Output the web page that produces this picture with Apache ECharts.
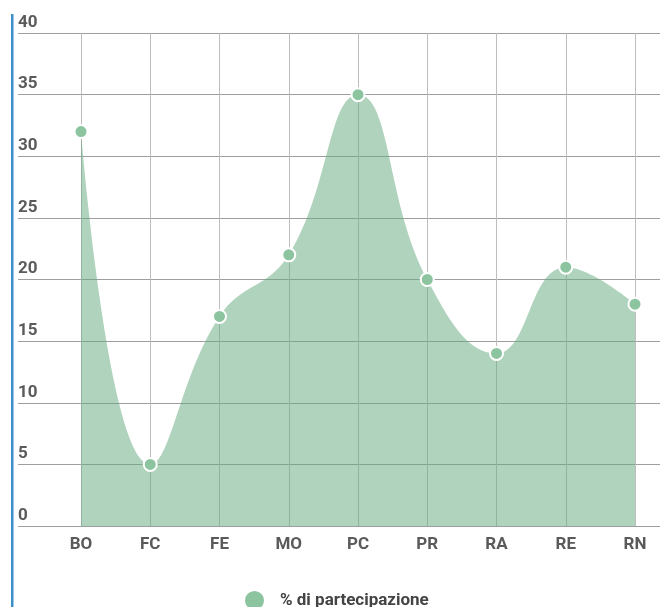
<!DOCTYPE html>
<html>
<head>
<meta charset="utf-8">
<script src="https://cdn.jsdelivr.net/npm/echarts@6/dist/echarts.min.js"></script>
<style>
  html, body { margin: 0; padding: 0; background: #fff; }
  #chart { width: 660px; height: 607px; }
</style>
</head>
<body>
<div id="chart"></div>
<script>
// Province codes and participation share (%)
const categories = ['BO', 'FC', 'FE', 'MO', 'PC', 'PR', 'RA', 'RE', 'RN'];
const partecipazione = [32, 5, 17, 22, 35, 20, 14, 21, 18];
const seriesName = '% di partecipazione';
const yMin = 0, yMax = 40, yStep = 5;

const labelFont = { fontFamily: 'Roboto', fontSize: 17, fontWeight: 'bold', color: '#5a5a5a' };

const chart = echarts.init(document.getElementById('chart'), null, { renderer: 'canvas' });
chart.setOption({
  animation: false,
  backgroundColor: '#fff',
  graphic: [{
    type: 'rect',
    shape: { x: 11, y: 14, width: 2.5, height: 600 },
    style: { fill: '#3d8fcc' }
  }],
  legend: {
    data: [seriesName],
    left: 243, top: 589, padding: 0,
    icon: 'circle', itemWidth: 21, itemHeight: 21, itemGap: 10,
    textStyle: Object.assign({}, labelFont, { color: '#444', padding: [0, 0, 0, 10] })
  },
  grid: [
    // full-width grid carrying the value axis and horizontal rules
    { left: 18, right: 0, top: 33, bottom: 81 },
    // plotting grid, category points sit on its edges
    { left: 81, right: 25, top: 33, bottom: 81 }
  ],
  xAxis: [
    { gridIndex: 0, type: 'value', show: false, min: 0, max: 1 },
    {
      gridIndex: 1, type: 'category', data: categories, boundaryGap: false,
      axisLine: { show: false }, axisTick: { show: false },
      axisLabel: Object.assign({ margin: 10 }, labelFont),
      splitLine: { show: true, lineStyle: { color: '#bdbdbd', width: 1 } }
    }
  ],
  yAxis: [
    {
      gridIndex: 0, type: 'value', min: yMin, max: yMax, interval: yStep,
      axisLine: { show: false }, axisTick: { show: false },
      axisLabel: Object.assign({ inside: true, margin: 0, verticalAlign: 'bottom', align: 'left', padding: [0, 0, 2, 0] }, labelFont),
      splitLine: { show: true, lineStyle: { color: '#9e9e9e', width: 1 } }
    },
    {
      gridIndex: 1, type: 'value', min: yMin, max: yMax, interval: yStep, show: false,
      splitLine: { show: false }
    }
  ],
  series: [{
    name: seriesName,
    type: 'line',
    xAxisIndex: 1, yAxisIndex: 1,
    data: partecipazione,
    smooth: 0.45,
    symbol: 'circle',
    symbolSize: 13,
    lineStyle: { width: 0 },
    itemStyle: { color: '#8cc4a0', borderColor: '#fff', borderWidth: 2 },
    areaStyle: { color: 'rgba(104,170,128,0.52)', opacity: 1 }
  }]
});
</script>
</body>
</html>
